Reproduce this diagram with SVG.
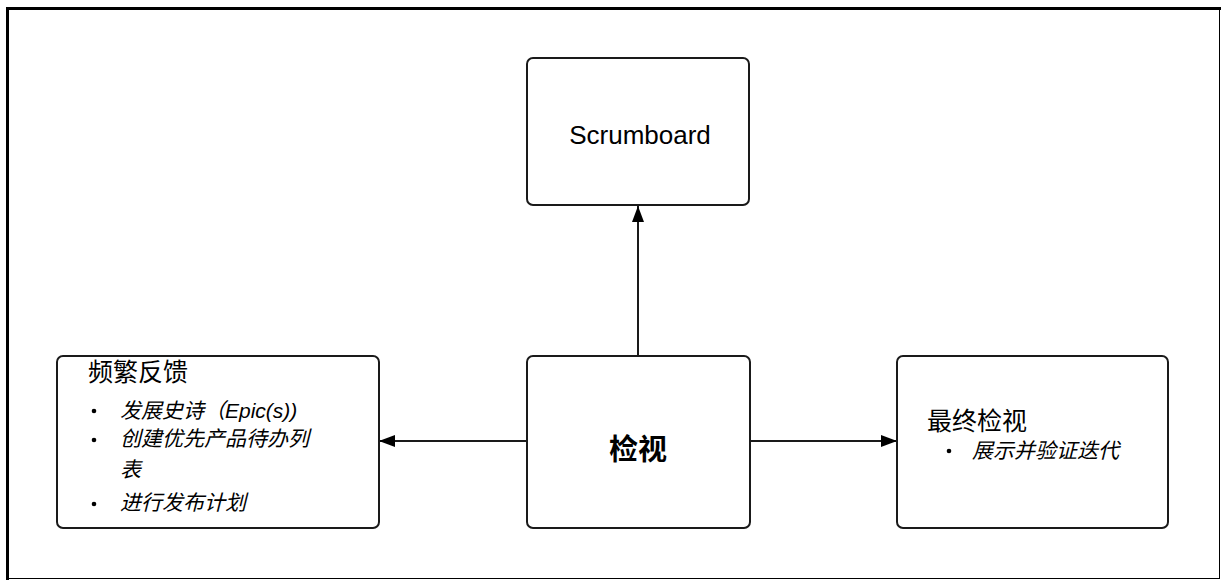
<svg xmlns="http://www.w3.org/2000/svg" width="1221" height="580" viewBox="0 0 1221 580">
<defs>
<style>
.box{fill:#fff;stroke:#1a1a1a;stroke-width:2}
.conn{stroke:#1a1a1a;stroke-width:2;fill:none}
.t{font-family:"Liberation Sans","Noto Sans CJK SC",sans-serif;fill:#000}
.h{font-size:25px}
.it{font-size:21px;font-style:italic}
</style>
<marker id="arrh" viewBox="0 0 16 12" refX="16" refY="6" markerWidth="16" markerHeight="12" markerUnits="userSpaceOnUse" orient="auto">
<path d="M0,0 L16,6 L0,12 z" fill="#000"/>
</marker>
</defs>
<rect width="1221" height="580" fill="#fff"/>
<g id="frame">
<line x1="7.5" y1="7" x2="7.5" y2="580" stroke="#000" stroke-width="3"/>
<line x1="6" y1="8.5" x2="1221" y2="8.5" stroke="#000" stroke-width="3"/>
<line x1="1219.5" y1="8" x2="1219.5" y2="578" stroke="#000" stroke-width="1"/>
<line x1="7" y1="578.5" x2="1220" y2="578.5" stroke="#000" stroke-width="1"/>
</g>
<g id="connectors">
<line class="conn" x1="638" y1="356" x2="638" y2="206" marker-end="url(#arrh)"/>
<line class="conn" x1="527" y1="441" x2="379" y2="441" marker-end="url(#arrh)"/>
<line class="conn" x1="750" y1="441" x2="897" y2="441" marker-end="url(#arrh)"/>
</g>
<g id="scrumboard">
<rect class="box" x="527" y="58" width="222" height="147" rx="6"/>
<text class="t" x="640" y="144" text-anchor="middle" font-size="26">Scrumboard</text>
</g>
<g id="jianshi">
<rect class="box" x="527" y="356" width="223" height="172" rx="6"/>
<text class="t" x="638" y="460" text-anchor="middle" font-size="29" font-weight="bold">检视</text>
</g>
<g id="feedback">
<rect class="box" x="57" y="356" width="322" height="172" rx="6"/>
<text class="t h" x="88" y="381">频繁反馈</text>
<circle cx="94" cy="411" r="2.3" fill="#000"/>
<text class="t it" x="120" y="418">发展史诗（Epic(s))</text>
<circle cx="94" cy="440" r="2.3" fill="#000"/>
<text class="t it" x="120" y="446">创建优先产品待办列</text>
<text class="t it" x="120" y="477">表</text>
<circle cx="94" cy="504" r="2.3" fill="#000"/>
<text class="t it" x="120" y="510">进行发布计划</text>
</g>
<g id="final">
<rect class="box" x="897" y="356" width="271" height="172" rx="6"/>
<text class="t h" x="927" y="430">最终检视</text>
<circle cx="949" cy="451" r="2.3" fill="#000"/>
<text class="t it" x="972" y="458">展示并验证迭代</text>
</g>
</svg>
